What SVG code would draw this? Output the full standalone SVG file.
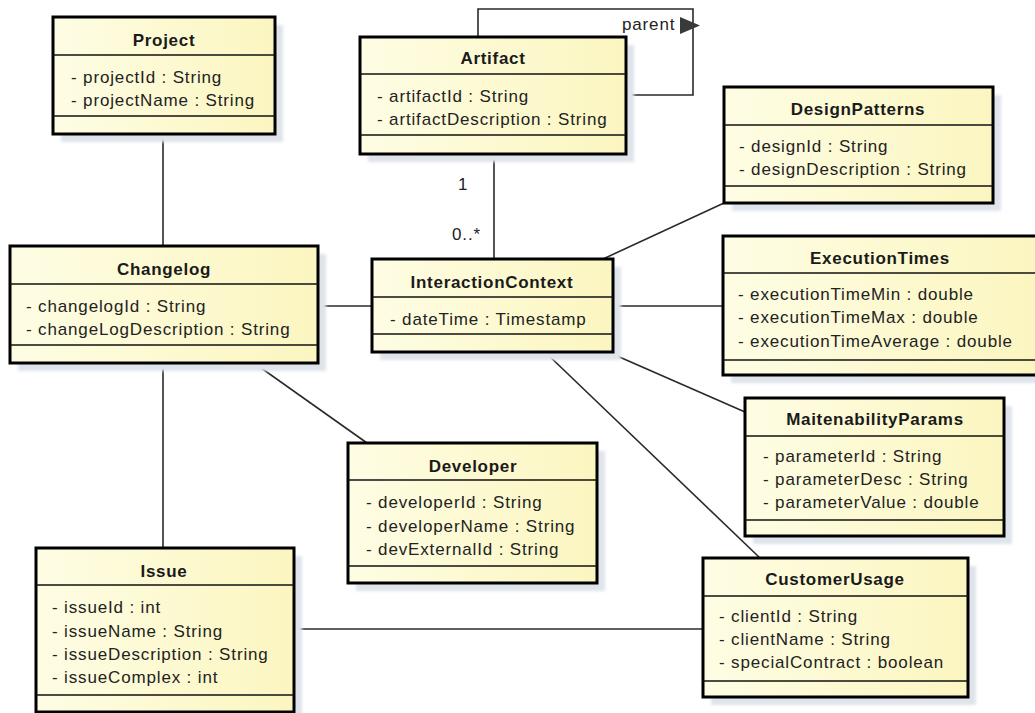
<svg xmlns="http://www.w3.org/2000/svg" width="1035" height="713" viewBox="0 0 1035 713">
  <defs>
    <linearGradient id="classFill" x1="0" y1="0" x2="1" y2="0">
      <stop offset="0" stop-color="#fefde4"/>
      <stop offset="1" stop-color="#fbf6c0"/>
    </linearGradient>
    <filter id="soft" x="-10%" y="-10%" width="120%" height="120%">
      <feGaussianBlur stdDeviation="1.5"/>
    </filter>
  </defs>
  <style>
    .shadow { fill: #dfe4eb; filter: url(#soft); }
    .box { fill: url(#classFill); stroke: #000; stroke-width: 3; }
    .sep { stroke: #111; stroke-width: 1.5; }
    .title { font-family: "Liberation Sans", Arial, sans-serif; font-size: 17px; font-weight: bold; letter-spacing: 0.7px; fill: #1a1a1a; text-anchor: middle; }
    .attr { font-family: "Liberation Sans", Arial, sans-serif; font-size: 17px; letter-spacing: 0.85px; fill: #222; }
    .lbl { font-family: "Liberation Sans", Arial, sans-serif; font-size: 17px; letter-spacing: 0.85px; fill: #222; }
    .edge { fill: none; stroke: #2a2a2a; stroke-width: 1.6; }
  </style>
  <rect width="1035" height="713" fill="#ffffff"/>

  <!-- associations -->
  <g id="connectors">
    <line class="edge" x1="163" y1="134" x2="163" y2="246"/>
    <line class="edge" x1="163" y1="363" x2="163" y2="548"/>
    <line class="edge" x1="318" y1="306" x2="372" y2="306"/>
    <line class="edge" x1="254" y1="363" x2="367" y2="443"/>
    <line class="edge" x1="494" y1="154" x2="494" y2="259"/>
    <line class="edge" x1="603" y1="259" x2="724" y2="203"/>
    <line class="edge" x1="613" y1="306" x2="723" y2="306"/>
    <line class="edge" x1="608" y1="352" x2="745" y2="412"/>
    <line class="edge" x1="545" y1="352" x2="760" y2="558"/>
    <line class="edge" x1="294" y1="629" x2="703" y2="629"/>
    <!-- Artifact self-association -->
    <polyline class="edge" points="478,37 478,9 693,9 693,95 626,95"/>
    <text class="lbl" x="622" y="30">parent</text>
    <polygon points="680,17 700,25.5 680,34" fill="#3a3a3a"/>
    <text class="lbl" x="458" y="190">1</text>
    <text class="lbl" x="452" y="240">0..*</text>
  </g>

  <g id="project">
    <rect class="shadow" x="61" y="25" width="222" height="117"/>
    <rect class="box" x="53" y="17" width="222" height="117"/>
    <line class="sep" x1="53" y1="55" x2="275" y2="55"/>
    <line class="sep" x1="53" y1="116" x2="275" y2="116"/>
    <text class="title" x="164" y="46">Project</text>
    <text class="attr" x="71" y="83">- projectId : String</text>
    <text class="attr" x="71" y="106">- projectName : String</text>
  </g>

  <g id="artifact">
    <rect class="shadow" x="368" y="45" width="266" height="117"/>
    <rect class="box" x="360" y="37" width="266" height="117"/>
    <line class="sep" x1="360" y1="74" x2="626" y2="74"/>
    <line class="sep" x1="360" y1="135" x2="626" y2="135"/>
    <text class="title" x="493" y="64">Artifact</text>
    <text class="attr" x="377" y="102">- artifactId : String</text>
    <text class="attr" x="377" y="125">- artifactDescription : String</text>
  </g>

  <g id="design-patterns">
    <rect class="shadow" x="732" y="95" width="269" height="116"/>
    <rect class="box" x="724" y="87" width="269" height="116"/>
    <line class="sep" x1="724" y1="125" x2="993" y2="125"/>
    <line class="sep" x1="724" y1="186" x2="993" y2="186"/>
    <text class="title" x="858" y="115">DesignPatterns</text>
    <text class="attr" x="739" y="152">- designId : String</text>
    <text class="attr" x="739" y="175">- designDescription : String</text>
  </g>

  <g id="changelog">
    <rect class="shadow" x="18" y="254" width="308" height="117"/>
    <rect class="box" x="10" y="246" width="308" height="117"/>
    <line class="sep" x1="10" y1="284" x2="318" y2="284"/>
    <line class="sep" x1="10" y1="345" x2="318" y2="345"/>
    <text class="title" x="164" y="275">Changelog</text>
    <text class="attr" x="26" y="312">- changelogId : String</text>
    <text class="attr" x="26" y="335">- changeLogDescription : String</text>
  </g>

  <g id="interaction-context">
    <rect class="shadow" x="380" y="267" width="241" height="93"/>
    <rect class="box" x="372" y="259" width="241" height="93"/>
    <line class="sep" x1="372" y1="297" x2="613" y2="297"/>
    <line class="sep" x1="372" y1="334" x2="613" y2="334"/>
    <text class="title" x="492" y="288">InteractionContext</text>
    <text class="attr" x="390" y="325">- dateTime : Timestamp</text>
  </g>

  <g id="execution-times">
    <rect class="shadow" x="731" y="244" width="314" height="139"/>
    <rect class="box" x="723" y="236" width="314" height="139"/>
    <line class="sep" x1="723" y1="273" x2="1037" y2="273"/>
    <line class="sep" x1="723" y1="360" x2="1037" y2="360"/>
    <text class="title" x="880" y="264">ExecutionTimes</text>
    <text class="attr" x="738" y="300">- executionTimeMin : double</text>
    <text class="attr" x="738" y="323">- executionTimeMax : double</text>
    <text class="attr" x="738" y="347">- executionTimeAverage : double</text>
  </g>

  <g id="maintainability-params">
    <rect class="shadow" x="753" y="406" width="259" height="138"/>
    <rect class="box" x="745" y="398" width="259" height="138"/>
    <line class="sep" x1="745" y1="436" x2="1004" y2="436"/>
    <line class="sep" x1="745" y1="520" x2="1004" y2="520"/>
    <text class="title" x="875" y="425">MaitenabilityParams</text>
    <text class="attr" x="763" y="462">- parameterId : String</text>
    <text class="attr" x="763" y="485">- parameterDesc : String</text>
    <text class="attr" x="763" y="508">- parameterValue : double</text>
  </g>

  <g id="developer">
    <rect class="shadow" x="356" y="451" width="249" height="140"/>
    <rect class="box" x="348" y="443" width="249" height="140"/>
    <line class="sep" x1="348" y1="480" x2="597" y2="480"/>
    <line class="sep" x1="348" y1="566" x2="597" y2="566"/>
    <text class="title" x="473" y="472">Developer</text>
    <text class="attr" x="366" y="508">- developerId : String</text>
    <text class="attr" x="366" y="532">- developerName : String</text>
    <text class="attr" x="366" y="555">- devExternalId : String</text>
  </g>

  <g id="issue">
    <rect class="shadow" x="44" y="556" width="258" height="164"/>
    <rect class="box" x="36" y="548" width="258" height="164"/>
    <line class="sep" x1="36" y1="585" x2="294" y2="585"/>
    <line class="sep" x1="36" y1="695" x2="294" y2="695"/>
    <text class="title" x="164" y="577">Issue</text>
    <text class="attr" x="52" y="613">- issueId : int</text>
    <text class="attr" x="52" y="637">- issueName : String</text>
    <text class="attr" x="52" y="660">- issueDescription : String</text>
    <text class="attr" x="52" y="683">- issueComplex : int</text>
  </g>

  <g id="customer-usage">
    <rect class="shadow" x="711" y="566" width="265" height="139"/>
    <rect class="box" x="703" y="558" width="265" height="139"/>
    <line class="sep" x1="703" y1="596" x2="968" y2="596"/>
    <line class="sep" x1="703" y1="681" x2="968" y2="681"/>
    <text class="title" x="835" y="585">CustomerUsage</text>
    <text class="attr" x="719" y="622">- clientId : String</text>
    <text class="attr" x="719" y="645">- clientName : String</text>
    <text class="attr" x="719" y="668">- specialContract : boolean</text>
  </g>
</svg>
